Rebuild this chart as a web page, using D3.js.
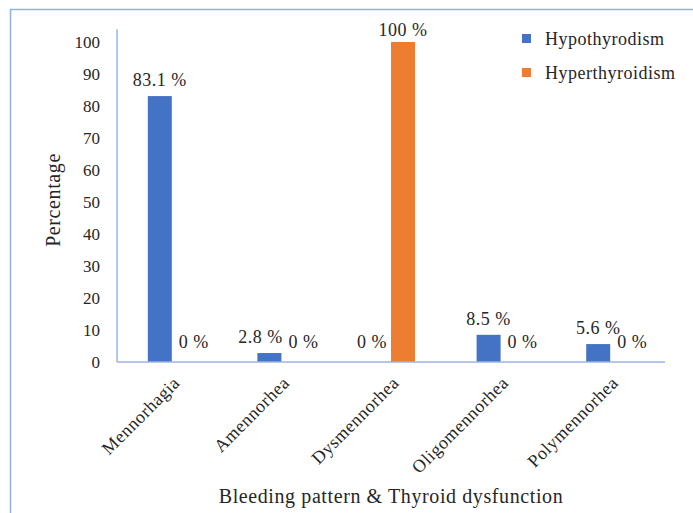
<!DOCTYPE html>
<html><head><meta charset="utf-8">
<script src="https://cdn.jsdelivr.net/npm/d3@7"></script>
<style>body{margin:0;background:#fff}svg{display:block}svg text{font-family:"Liberation Serif","Times New Roman",serif !important;fill:#262626}</style>
</head><body>
<script>
const categories = ["Mennorhagia","Amennorhea","Dysmennorhea","Oligomennorhea","Polymennorhea"];
const seriesNames = ["Hypothyrodism","Hyperthyroidism"];
const hypoValues = [83.1, 2.8, 0, 8.5, 5.6];
const hyperValues = [0, 0, 100, 0, 0];
const yTicks = [0,10,20,30,40,50,60,70,80,90,100];
const colors = ["#4472C4","#ED7D31"];

const W = 693, H = 513;
const svg = d3.select("body").append("svg").attr("width", W).attr("height", H);

// outer border (only top/left visible)
svg.append("rect").attr("x",10.5).attr("y",9.5).attr("width",W+20).attr("height",H+20)
  .attr("fill","none").attr("stroke","#8DB3E2").attr("stroke-width",1.5);

const left = 117, right = 665, bottom = 362;
const x = d3.scaleBand().domain(categories).range([left,right]).paddingInner(0).paddingOuter(0);
const y = d3.scaleLinear().domain([0,104]).range([bottom, bottom - 104*3.2]);
const xs = d3.scaleBand().domain(seriesNames).range([-24, 24]);

const data = categories.map((c,i)=>({cat:c, vals:[hypoValues[i], hyperValues[i]]}));

// bars
const g = svg.append("g");
data.forEach(d=>{
  d.vals.forEach((v,s)=>{
    const cx = x(d.cat) + x.bandwidth()/2;
    g.append("rect")
      .attr("x", cx + xs(seriesNames[s]))
      .attr("y", y(v))
      .attr("width", xs.bandwidth())
      .attr("height", y(0)-y(v))
      .attr("fill", colors[s]);
  });
});

// axes lines
svg.append("line").attr("x1",left).attr("x2",left).attr("y1",y(104)).attr("y2",y(0))
  .attr("stroke","#9DB5E0").attr("stroke-width",1.5);
svg.append("line").attr("x1",left).attr("x2",right).attr("y1",y(0)).attr("y2",y(0))
  .attr("stroke","#9DB5E0").attr("stroke-width",1.5);

// y ticks
const yAxis = d3.axisLeft(y).tickValues(yTicks).tickSize(0).tickPadding(17);
const ya = svg.append("g").attr("transform",`translate(${left},0)`).call(yAxis);
ya.attr("font-family",null).attr("font-size",null);
ya.select(".domain").remove();
ya.selectAll("text").attr("font-size",17).attr("fill","#262626");

// data labels
data.forEach(d=>{
  d.vals.forEach((v,s)=>{
    const cx = x(d.cat) + x.bandwidth()/2 + xs(seriesNames[s]) + xs.bandwidth()/2;
    let dx = 0;
    if (v===0) dx = s===0 ? -7 : 10;
    else if (v<5) dx = -9;
    const dy = v===0 ? 14 : (v>=100 ? 6 : 10);
    svg.append("text").attr("x", cx+dx).attr("y", y(v)-dy)
      .attr("text-anchor","middle").attr("font-size",18).attr("letter-spacing",0.5)
      .text(v + " %");
  });
});

// category labels
categories.forEach(c=>{
  const cx = x(c) + x.bandwidth()/2;
  svg.append("text").attr("transform",`translate(${cx+9},${bottom+22}) rotate(-45)`)
    .attr("text-anchor","end").attr("font-size",18).attr("letter-spacing",0.5).text(c);
});

// axis titles
svg.append("text").attr("x",(left+right)/2).attr("y",503).attr("text-anchor","middle")
  .attr("font-size",20).attr("letter-spacing",0.6).text("Bleeding pattern & Thyroid dysfunction");
svg.append("text").attr("transform","translate(60,200) rotate(-90)").attr("text-anchor","middle")
  .attr("font-size",20).attr("letter-spacing",0.6).text("Percentage");

// legend
seriesNames.forEach((n,i)=>{
  const ly = 39 + i*34;
  svg.append("rect").attr("x",522).attr("y",ly-5).attr("width",9).attr("height",9).attr("fill",colors[i]);
  svg.append("text").attr("x",545).attr("y",ly+6).attr("font-size",18).attr("letter-spacing",0.5).text(n);
});
</script>
</body></html>
